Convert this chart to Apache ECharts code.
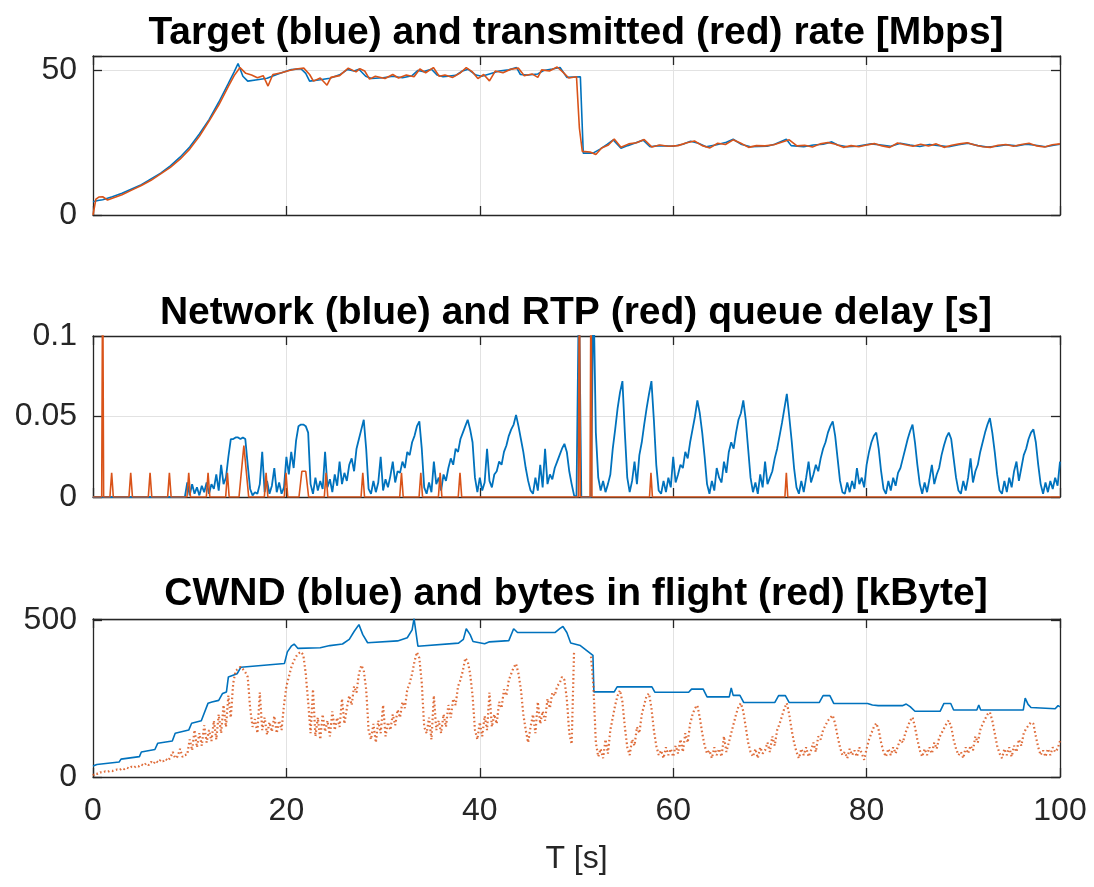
<!DOCTYPE html>
<html><head><meta charset="utf-8">
<script src="https://cdn.jsdelivr.net/npm/echarts@6/dist/echarts.min.js"></script>
<style>html,body{margin:0;padding:0;background:#fff}#c{width:1094px;height:887px}</style>
</head><body><div id="c"></div>
<script>
// ---------- data ----------
const xTicks = [0, 20, 40, 60, 80, 100];
const rateTicks = [0, 50];
const delayTicks = [0, 0.05, 0.1];
const cwndTicks = [0, 500];

// Top: target rate (blue), [t s, Mbps]
const rateTarget = [[0,4.6],[0.5,5.0],[1,5.3],[2,6.3],[3,7.5],[4,9.0],[5,10.5],[6,12.5],[7,14.5],[8,17],[9,20],[10,23.5],[11,28],[12,33],[13,39],[14,45.5],[14.6,49.5],[15.0,52.4],[15.5,48],[16.0,46.3],[17,46.8],[18,47.3],[19,48.6],[19.5,49.2],[20.5,50.3],[21.5,50.6],[22.0,49],[22.4,46.3],[23.5,46.8],[24.5,47.3],[25.5,48.5],[26.3,50.3],[27.0,49.8],[27.5,50.4],[28.2,48.0],[28.8,47.2],[30,47.5],[31,48],[32,47.5],[33,48.2],[33.6,50],[34.2,49.6],[35,50.4],[35.6,48.4],[36.2,47.8],[37.5,48.3],[38.2,49.8],[38.8,50.4],[39.6,48.4],[40.2,48],[41,48.8],[42,49.8],[43,50.2],[43.8,51],[44.2,48.6],[45,48.4],[46,48.8],[46.6,50],[47.5,50.5],[48.3,51],[49,47.6],[50.4,47.8],[50.7,21.4],[51.7,21.4],[52.4,22.7],[53.2,24.5],[53.8,26],[54.6,23.1],[55.3,24],[56,24.8],[56.9,25.9],[57.6,23.6],[58.5,24],[60,23.8],[61,24.5],[61.8,25.5],[62.6,24.8],[63.4,23.6],[64.5,24.3],[65.5,25.2],[66.2,26.2],[67,24.5],[68,23.6],[69.7,23.8],[70.5,24.5],[71.7,26.2],[72.2,24],[73.5,23.6],[74.5,24.2],[75.5,24.5],[76.4,25.3],[77,24.2],[78,23.6],[79,23.8],[80.5,24.6],[81.5,24.2],[82.5,23.8],[83.5,24.8],[84.5,24.2],[85.5,23.7],[86.5,24.4],[87.5,24],[88.5,23.6],[89.5,24.3],[90.5,24.8],[91.5,24],[92.5,23.5],[93.5,23.8],[94.5,24.3],[95.5,23.9],[96.5,24.5],[97.5,24.1],[98.5,23.6],[99.5,24.2],[100,24.5]];

// Top: transmitted rate (red), [t s, Mbps]
const rateTx = [[0,0],[0.3,5.5],[0.6,6.2],[1.0,6.3],[1.5,5.2],[2,5.8],[3,7],[4,8.6],[5,10.2],[6,12],[7,14.2],[8,16.5],[9,19.3],[10,22.8],[11,27.2],[12,32.5],[13,38],[14,44.5],[14.6,48.2],[15.2,51],[15.8,49],[16.4,48.4],[17.0,47.5],[17.6,48.2],[18.1,44.6],[18.6,48.6],[19.5,49.2],[20.3,50],[21.0,50.5],[21.8,50.8],[22.4,48.6],[22.8,46.3],[23.5,47.4],[24.2,44.9],[24.6,47.6],[25.5,48.2],[26.4,50.8],[27.2,49.5],[27.6,50.6],[28.1,49.8],[28.6,47],[29.2,48],[30.2,47.2],[31.0,48.6],[31.6,47.4],[32.4,48.4],[33.2,47.8],[33.8,50.5],[34.4,49.2],[35.2,51],[35.8,48],[36.4,48.4],[37.2,47.6],[38.0,49.2],[38.6,51],[39.2,49.6],[39.8,47.2],[40.4,48.6],[41.0,46.4],[41.6,49.8],[42.4,49.2],[43.2,50.4],[44.0,50.8],[44.6,48.2],[45.4,48.8],[46.0,47.6],[46.4,50.2],[47.2,49.8],[48.0,51.2],[48.6,49.4],[49.2,47.4],[50.0,47.8],[50.3,30],[50.6,22],[51.4,21.8],[52.0,20.9],[52.6,23.2],[53.3,24.2],[53.9,26.3],[54.6,23.4],[55.4,24.6],[56.2,25],[57.0,26.1],[57.8,23.5],[58.6,24.2],[59.5,23.8],[60.5,24],[61.4,25],[62.2,25.6],[63.0,24],[63.8,23.2],[64.6,24.8],[65.4,24.4],[66.2,26],[67.0,24.8],[67.8,23.4],[68.6,24],[69.5,23.9],[70.4,24.3],[71.2,25.2],[72.0,26],[72.8,23.9],[73.6,24.1],[74.4,23.5],[75.2,24.6],[76.0,25.1],[76.8,24.5],[77.6,23.4],[78.4,24],[79.2,23.6],[80.0,24.2],[80.8,24.7],[81.6,23.9],[82.4,23.4],[83.2,24.9],[84.0,24.3],[84.8,23.8],[85.6,24.5],[86.4,23.9],[87.2,24.6],[88.0,23.4],[88.8,24.1],[89.6,24.6],[90.4,25],[91.2,24.2],[92.0,23.6],[92.8,23.4],[93.6,24.1],[94.4,24.4],[95.2,23.8],[96.0,24.4],[96.8,24.8],[97.6,23.9],[98.4,23.5],[99.2,24.3],[100,24.6]];

// Middle: network queue delay (blue), ms, sampled every 0.25 s from t = 0
const sampleStep = 0.25;
const netDelayMs = [
0,0,0,0,0,0,0,0,0,0, 0,0,0,0,0,0,0,0,0,0, 0,0,0,0,0,0,0,0,0,0, 0,0,0,0,0,0,0,0,0,
9,1,8,2,6,1,7,3,9,2,8,5,14,4,20,8,
12,25,36,36, 37,37,36,37,36, 20,5,1,3,
2,8,28,3,10,2,7,18,3,9,2,6,
25,14,28,18,35, 44,45,45,44,40, 8,2,
12,4,10,5,28,6,11,3,14,7,22,8,15,10,20,
24,16,30,36,42,48, 30,5,2,
10,3,9,25,4,11,6,13,22,9,16,
15,22,18,28,26,34,38,44,47, 30,6,2,
9,3,22,8,12,4,14,10,
18,24,20,30,28,36,40,44,48, 42,34,12,3,
12,4,9,30,10,6,14,
16,22,20,28,32,38,42,45,51, 44,36,28,18,10,4,2,
12,4,20,6,30,8,14,11,
18,22,26,30,33,28,16,8, 1,
0,130,0,0,0,0,0,130,40,12,
4,10,3,8,14, 30,42,55,65,72, 40,12,3,
10,22,8,26, 34,45,55,64,72, 48,20,4,2,
10,3,12,6,25,9,14,20,18, 28,24,34,42,50,60, 52,40,25,8,2,
10,4,18,12,9,22,15, 28,34,30,40,48,52,60, 48,30,12,3,
9,2,14,6,22,8,12,16, 24,30,38,46,55,64, 50,35,18,6,2,
10,3,12,22,9,14,20,16, 24,30,34,40,44,47, 38,24,10,3,2,
9,3,10,5,18,8,12,6, 20,28,34,38,40, 30,16,5,2,
10,4,12,7,15,18, 24,30,36,41,45, 34,20,8,2,
9,3,11,20,8,14,18, 26,32,37,40, 36,24,12,4,2,
10,4,12,24,9,16,20, 28,34,40,45,49, 40,28,14,4,2,
10,3,12,6,16,22,10,18, 26,30,36,40,42, 34,20,8,2,
9,3,10,5,12,7,22
];

// Middle: RTP queue delay (red), [t s, ms]
const rtpDelayMs = [[0,0],[0.9,0],[1.0,150],[1.1,0],[1.75,0],[1.93,15],[2.1,0],[3.72,0],[3.9,15],[4.08,0],[5.72,0],[5.9,15],[6.08,0],[7.72,0],[7.9,15],[8.08,0],[9.72,0],[9.9,15],[10.08,0],[11.72,0],[11.9,15],[12.08,0],[13.72,0],[13.9,15],[14.08,0],[15.1,0],[15.6,32],[16.1,0],[17.72,0],[17.9,15],[18.08,0],[19.78,0],[19.96,15],[20.14,0],[21.3,0],[21.6,16],[22.0,16],[22.3,0],[23.92,0],[24.1,15],[24.28,0],[27.72,0],[27.9,15],[28.08,0],[31.72,0],[31.9,15],[32.08,0],[33.72,0],[33.9,15],[34.08,0],[35.72,0],[35.9,15],[36.08,0],[37.77,0],[37.95,15],[38.13,0],[50.2,0],[50.3,150],[50.4,0],[51.4,0],[51.5,150],[51.6,0],[57.55,0],[57.7,15],[57.85,0],[71.55,0],[71.7,15],[71.85,0],[100,0]];

// Bottom: CWND (blue), [t s, kByte]
const cwndKB = [[0,35],[0.4,40],[2.7,48],[2.9,57],[4.8,65],[5.0,80],[6.4,88],[6.7,108],[8.2,115],[8.5,140],[9.9,150],[10.2,172],[11.2,180],[11.9,236],[12.3,240],[13.0,245],[13.4,267],[13.8,272],[14.0,320],[14.9,330],[15.3,351],[19.8,363],[20.1,400],[20.5,418],[20.8,425],[21.2,411],[23.5,413],[24.5,420],[25.8,425],[26.5,440],[27.0,465],[27.5,487],[27.9,455],[28.4,429],[31.5,435],[32.5,445],[33.0,470],[33.2,506],[33.6,418],[37.8,428],[38.3,440],[38.6,474],[39.0,455],[39.3,433],[40.5,426],[41.0,432],[43.0,436],[43.5,474],[43.9,462],[47.8,462],[48.3,475],[48.6,481],[49.0,462],[49.4,428],[50.4,420],[51.7,389],[51.8,272],[53.9,272],[54.2,288],[57.8,288],[58.1,271],[61.6,271],[61.9,281],[63.1,281],[63.5,256],[65.8,256],[66.0,285],[66.2,261],[66.9,261],[67.3,238],[70.5,238],[70.9,260],[71.6,260],[72.0,238],[75.1,238],[75.5,260],[76.2,260],[76.6,235],[80.1,235],[80.6,230],[81.2,228],[83.7,228],[84.1,233],[84.5,225],[85.0,210],[87.6,210],[88.0,235],[88.7,235],[89.0,214],[91.4,214],[91.6,230],[91.8,214],[96.2,214],[96.4,252],[96.7,232],[97.0,222],[99.5,218],[99.8,228],[100,224]];

// Bottom: bytes in flight (red), kByte, sampled every 0.25 s from t = 0
const flightKB = [
5,12,10,15,14,18,16,20,19,22,
24,22,28,25,30,27,33,30,36,34,
40,36,44,38,48,42,52,46,55,50,
58,52,62,80,60,66,90,64,70,72,
120,85,150,95,140,100,165,110,150,115,
180,120,200,140,230,160,260,190,300,340,
345,352,345,335,320,220,160,185,140,270,
150,190,135,175,145,195,140,180,150,230,
290,320,350,370,385,395,400,390, 330,240,140,
280,130,190,120,200,145,180,130,210,150,190,160,250,170,220,260,
230,290,270,330,357, 340,280,150,
120,170,110,180,140,230,130,175,150,200,165,215,
190,240,220,280,300,330,370,399, 380,300,160,
140,190,120,260,150,180,140,200,160,230,190,
250,230,290,310,340,380,370, 330,260,150,120,
175,130,195,150,270,160,200,170,240,
220,280,260,310,330,350,362, 330,280,200,150,110,
160,200,140,240,170,210,180,250,220,270,
260,290,300,320,310, 250,140,105,405,
null,null,null,null,null,null,
385,290,110,65, 90,60,120,75,150, 190,230,260,277, 240,160,95,70,
120,100,160,140,200,230,260, 267,220,150,100,70,85,
60,95,70,90,65,100,75,120,80,140,110, 170,200,220,229, 190,140,100,75,
85,60,95,70,90,65,130,80,110,140, 170,200,225,236, 210,160,110,80,65,
90,60,95,75,85,110,80,130,100,150,170, 195,220,236, 200,150,110,80,60,90,
70,95,65,85,110,80,130,120,150, 165,180,190,197, 170,130,95,70,80,
60,90,70,85,65,95,75,55,90, 120,140,160,172, 150,110,80,65,
90,70,95,75,100,120,110, 140,160,180,191, 160,120,85,65,
90,70,95,75,110,90,125,140, 155,170,181, 160,120,90,70,80,
60,95,75,100,85,130,110,150, 170,185,200,207, 180,140,100,75,
60,90,70,95,65,100,80,120,100,140, 155,165,175,170, 130,95,70,85,
65,90,70,95,80,90,115
];

const titles = [
  'Target (blue) and transmitted (red) rate [Mbps]',
  'Network (blue) and RTP (red) queue delay [s]',
  'CWND (blue) and bytes in flight (red) [kByte]'
];

// ---------- chart ----------
const BLUE = '#0072BD', RED = '#D95319', AX = '#262626', GRIDC = '#e2e2e2';
const FONT = '"Liberation Sans", Arial, Helvetica, sans-serif';
const grids = [
  {left: 93, right: 34, top: 56, height: 159},
  {left: 93, right: 34, top: 336, height: 161},
  {left: 93, right: 34, top: 619, height: 158}
];
const yRanges = [[0, 55, 50, rateTicks], [0, 0.1, 0.05, delayTicks], [0, 505, 500, cwndTicks]];

function onTicks(list) {
  return v => list.some(t => Math.abs(t - v) < 1e-9) ? String(+v.toFixed(4)) : '';
}
const xAxes = [], yAxes = [];
grids.forEach((g, gi) => {
  xAxes.push({
    type: 'value', gridIndex: gi, min: 0, max: 100, interval: 20, position: 'bottom',
    axisLine: {show: true, onZero: false, lineStyle: {color: AX, width: 1.3}},
    axisTick: {show: true, inside: true, length: 9, lineStyle: {color: AX, width: 1.3}},
    axisLabel: {show: gi === 2, color: AX, fontSize: 32, fontFamily: FONT, margin: 18, formatter: onTicks(xTicks)},
    splitLine: {show: true, lineStyle: {color: GRIDC, width: 1}},
    name: gi === 2 ? 'T [s]' : '', nameLocation: 'middle', nameGap: 66,
    nameTextStyle: {color: AX, fontSize: 32, fontFamily: FONT}
  });
  xAxes.push({
    type: 'value', gridIndex: gi, min: 0, max: 100, interval: 20, position: 'top',
    axisLine: {show: true, onZero: false, lineStyle: {color: AX, width: 1.3}},
    axisTick: {show: true, inside: true, length: 9, lineStyle: {color: AX, width: 1.3}},
    axisLabel: {show: false}, splitLine: {show: false}
  });
  const [mn, mx, iv, tk] = yRanges[gi];
  yAxes.push({
    type: 'value', gridIndex: gi, min: mn, max: mx, interval: iv, position: 'left',
    axisLine: {show: true, onZero: false, lineStyle: {color: AX, width: 1.3}},
    axisTick: {show: true, inside: true, length: 9, lineStyle: {color: AX, width: 1.3}},
    axisLabel: {show: true, color: AX, fontSize: 32, fontFamily: FONT, margin: 16, formatter: onTicks(tk)},
    splitLine: {show: true, lineStyle: {color: GRIDC, width: 1}}
  });
  yAxes.push({
    type: 'value', gridIndex: gi, min: mn, max: mx, interval: iv, position: 'right',
    axisLine: {show: true, onZero: false, lineStyle: {color: AX, width: 1.3}},
    axisTick: {show: true, inside: true, length: 9, lineStyle: {color: AX, width: 1.3}},
    axisLabel: {show: false}, splitLine: {show: false}
  });
});

function line(xi, yi, data, color, extra) {
  return Object.assign({
    type: 'line', xAxisIndex: xi, yAxisIndex: yi, data: data, showSymbol: false, symbol: 'none',
    clip: true, connectNulls: false, animation: false, silent: true,
    lineStyle: {color: color, width: 1.6}
  }, extra || {});
}

const netData = netDelayMs.map((v, i) => [i * sampleStep, v / 1000]);
const rtpData = rtpDelayMs.map(p => [p[0], p[1] / 1000]);
const flightData = flightKB.map((v, i) => [i * sampleStep, v]);

const series = [
  line(0, 0, rateTarget, BLUE),
  line(0, 0, rateTx, RED),
  line(2, 2, netData, BLUE, {lineStyle: {color: BLUE, width: 1.8}}),
  line(2, 2, rtpData, RED),
  line(4, 4, cwndKB, BLUE),
  line(4, 4, flightData, RED, {lineStyle: {color: RED, width: 2.2, type: [1.6, 2.6], opacity: 0.85}})
];

const graphics = titles.map((t, i) => ({
  type: 'text', x: 576, y: [33, 313, 594][i], silent: true,
  style: {text: t, font: 'bold 39px ' + FONT, fill: '#000', textAlign: 'center', textVerticalAlign: 'middle', align: 'center', verticalAlign: 'middle'}
}));

const chart = echarts.init(document.getElementById('c'), null, {renderer: 'canvas'});
chart.setOption({
  backgroundColor: '#fff',
  animation: false,
  grid: grids.map(g => Object.assign({show: false, containLabel: false}, g)),
  xAxis: xAxes,
  yAxis: yAxes,
  series: series,
  graphic: graphics
});
</script>
</body></html>
